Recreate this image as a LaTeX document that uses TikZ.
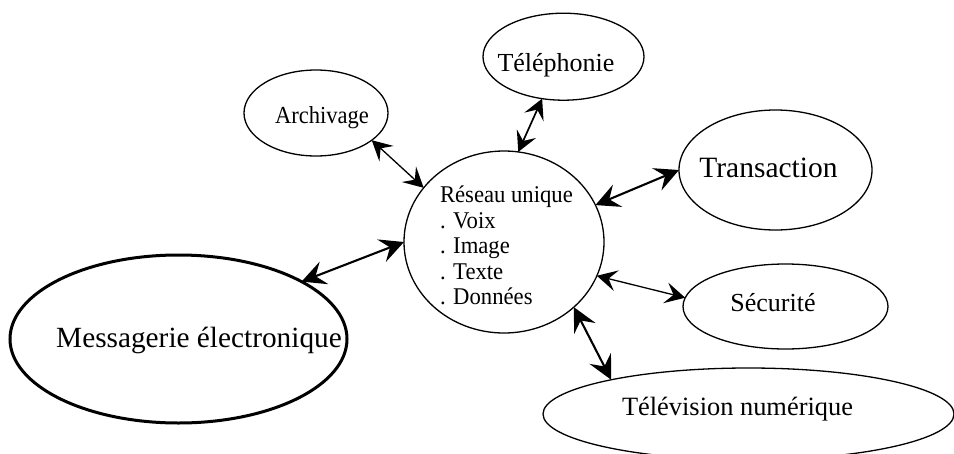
\documentclass[tikz,border=0pt]{standalone}
\usepackage{fontspec}
\setmainfont{Liberation Serif}
\newfontfamily\condA[FakeStretch=0.92]{Liberation Serif}
\newfontfamily\condB[FakeStretch=0.945]{Liberation Serif}
\usetikzlibrary{shapes.geometric,arrows.meta}
\tikzset{
  oval/.style={ellipse, draw, line width=1.3pt, inner sep=0pt, outer sep=0pt},
  lbl/.style={inner sep=0pt, outer sep=0pt, anchor=base},
  smalltip/.tip={Stealth[length=20pt,width=21pt,inset=8pt]},
  bigtip/.tip={Stealth[length=24pt,width=24pt,inset=9pt]},
  thinlink/.style={line width=1.3pt, smalltip-smalltip},
  midlink/.style={line width=1.7pt, smalltip-smalltip},
  thicklink/.style={line width=2.1pt, bigtip-bigtip}
}
\begin{document}
\begin{tikzpicture}[x=1pt,y=-1pt]
\useasboundingbox (0,0) rectangle (954,453);
\clip (0,0) rectangle (954,453);

% ellipses
\node[oval, minimum width=161pt, minimum height=87pt] (tel) at (563.5,56.7) {};
\node[oval, minimum width=144pt, minimum height=86pt] (arc) at (316,113) {};
\node[oval, minimum width=200pt, minimum height=182pt] (res) at (504,242) {};
\node[oval, minimum width=193pt, minimum height=120pt] (tra) at (775.5,170) {};
\node[oval, minimum width=205pt, minimum height=85pt] (sec) at (785.5,306.5) {};
\node[oval, minimum width=411pt, minimum height=92pt] (tv) at (748.5,414) {};
\node[oval, line width=3pt, minimum width=337pt, minimum height=168pt] (msg) at (178.5,339) {};

% texts
\node[lbl, font=\fontsize{26}{26}\selectfont] (telt) at (556,71) {Téléphonie};
\node[lbl, font=\condA\fontsize{24.5}{24.5}\selectfont] (arct) at (322,123) {Archivage};
\node[lbl, font=\fontsize{29.5}{29.5}\selectfont] (trat) at (768.5,177) {Transaction};
\node[lbl, font=\fontsize{26}{26}\selectfont] (sect) at (773,311) {Sécurité};
\node[lbl, font=\fontsize{26.4}{26.4}\selectfont] (tvt) at (737.5,415) {Télévision numérique};
\node[lbl, font=\fontsize{29.3}{29.3}\selectfont] (msgt) at (199,347) {Messagerie électronique};
\node[inner sep=0pt, outer sep=0pt, anchor=west, align=left,
      font=\condB\fontsize{24}{25.5}\selectfont] (rest) at (440,245.5)
  {Réseau unique\\. Voix\\. Image\\. Texte\\. Données};

% connectors
\draw[midlink] (tel.243.3) -- (res.81);
\draw[thinlink] (arc.334.7) -- (res.146);
\draw[thicklink] (res.22.7) -- (tra.180);
\draw[thinlink] (res.340.5) -- (sec.175.9);
\draw[thicklink] (res.317.1) -- (tv.166.8);
\draw[thicklink] (res.180.6) -- (msg.25.9);
\end{tikzpicture}
\end{document}
